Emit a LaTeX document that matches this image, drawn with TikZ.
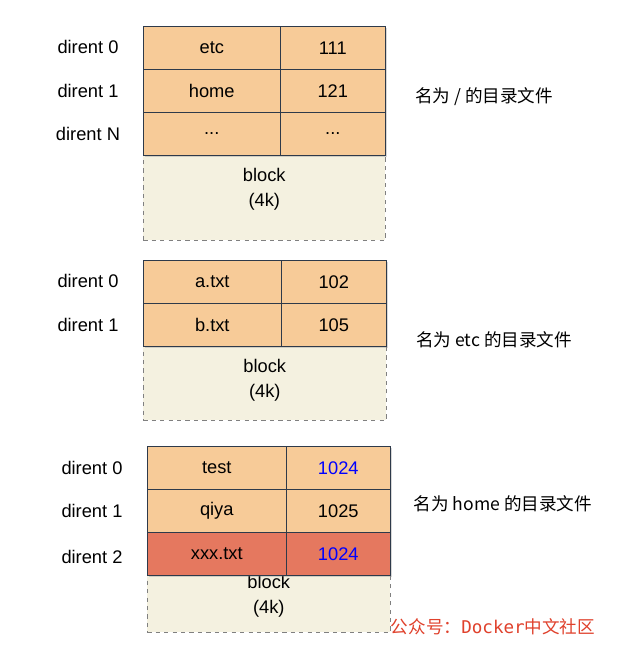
\documentclass[tikz,border=0pt]{standalone}
\usepackage{fontspec}
\setmainfont{Liberation Sans}
\newfontfamily\cjk{Noto Sans CJK SC}
\newfontfamily\wmfont{DejaVu Sans Mono}
\usetikzlibrary{shadows}
\definecolor{cellfill}{HTML}{F7CB98}
\definecolor{cellline}{HTML}{2E3A4A}
\definecolor{blockfill}{HTML}{F4F1E0}
\definecolor{redfill}{HTML}{E5785F}
\definecolor{marker}{HTML}{E0412C}
\tikzset{
  cell/.style={rectangle,draw=cellline,fill=cellfill,anchor=north west,inner sep=0pt,
    drop shadow={shadow xshift=1pt,shadow yshift=-1pt,opacity=0.3},font=\fontsize{13}{15}\selectfont},
  blk/.style={rectangle,draw=gray,dashed,fill=blockfill,anchor=north west,inner sep=0pt,
    label={[anchor=north,align=center,inner sep=0pt,yshift=-#1,font=\fontsize{13}{18}\selectfont]north:block\\(4k)}},
  lab/.style={font=\fontsize{13}{15}\selectfont},
  note/.style={font=\cjk\fontsize{12.5}{14}\selectfont}
}
\begin{document}
\begin{tikzpicture}[x=0.025cm,y=-0.025cm]
    \useasboundingbox[fill=white] (0,0) rectangle (621,655);

    % directory /
    \node[blk=9pt,minimum width=242*0.025cm,minimum height=85*0.025cm] (blockA) at (143,155) {};
    \node[cell,minimum width=137*0.025cm,minimum height=43*0.025cm] (a0) at (143,26) {etc};
    \node[cell,minimum width=105*0.025cm,minimum height=43*0.025cm] (a0n) at (280,26) {111};
    \node[cell,minimum width=137*0.025cm,minimum height=43*0.025cm] (a1) at (143,69) {home};
    \node[cell,minimum width=105*0.025cm,minimum height=43*0.025cm] (a1n) at (280,69) {121};
    \node[cell,minimum width=137*0.025cm,minimum height=43*0.025cm] (a2) at (143,112) {...};
    \node[cell,minimum width=105*0.025cm,minimum height=43*0.025cm] (a2n) at (280,112) {...};
    \node[lab] (la0) at (88,47) {dirent 0};
    \node[lab] (la1) at (88,91) {dirent 1};
    \node[lab] (la2) at (88,134) {dirent N};
    \node[note] (na) at (484,97) {名为 / 的目录文件};

    % directory etc
    \node[blk=9pt,minimum width=243*0.025cm,minimum height=74*0.025cm] (blockB) at (143,346) {};
    \node[cell,minimum width=138*0.025cm,minimum height=43*0.025cm] (b0) at (143,260) {a.txt};
    \node[cell,minimum width=105*0.025cm,minimum height=43*0.025cm] (b0n) at (281,260) {102};
    \node[cell,minimum width=138*0.025cm,minimum height=43*0.025cm] (b1) at (143,303) {b.txt};
    \node[cell,minimum width=105*0.025cm,minimum height=43*0.025cm] (b1n) at (281,303) {105};
    \node[lab] (lb0) at (88,281) {dirent 0};
    \node[lab] (lb1) at (88,325) {dirent 1};
    \node[note] (nb) at (494,340) {名为 etc 的目录文件};

    % directory home
    \node[blk=0pt,minimum width=243*0.025cm,minimum height=57*0.025cm] (blockC) at (147,575) {};
    \node[cell,minimum width=139*0.025cm,minimum height=43*0.025cm] (c0) at (147,446) {test};
    \node[cell,minimum width=104*0.025cm,minimum height=43*0.025cm,text=blue] (c0n) at (286,446) {1024};
    \node[cell,minimum width=139*0.025cm,minimum height=43*0.025cm] (c1) at (147,489) {qiya};
    \node[cell,minimum width=104*0.025cm,minimum height=43*0.025cm] (c1n) at (286,489) {1025};
    \node[cell,fill=redfill,minimum width=139*0.025cm,minimum height=43*0.025cm] (c2) at (147,532) {xxx.txt};
    \node[cell,fill=redfill,minimum width=104*0.025cm,minimum height=43*0.025cm,text=blue] (c2n) at (286,532) {1024};
    \node[lab] (lc0) at (92,468) {dirent 0};
    \node[lab] (lc1) at (92,511) {dirent 1};
    \node[lab] (lc2) at (92,557) {dirent 2};
    \node[note] (nc) at (503,504) {名为 home 的目录文件};

    \node[note,text=marker] (mark) at (493,627) {公众号：\wmfont Docker\cjk 中文社区};
\end{tikzpicture}
\end{document}
